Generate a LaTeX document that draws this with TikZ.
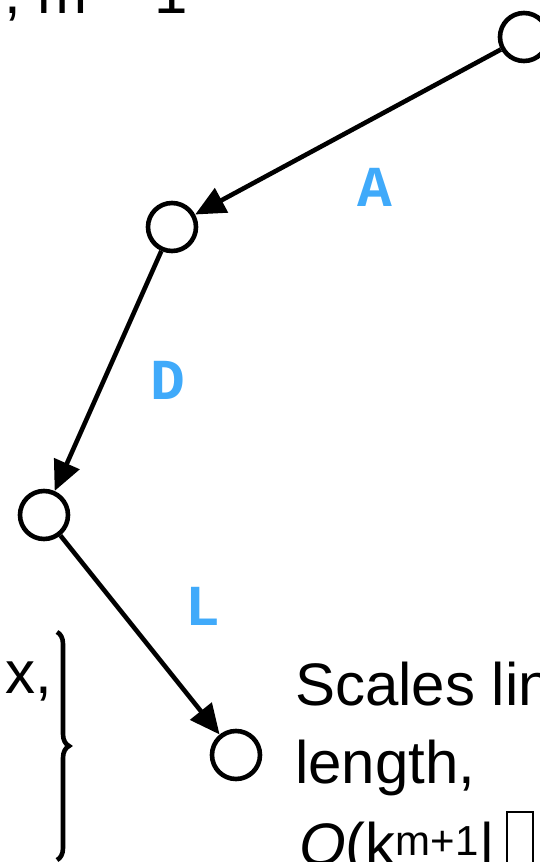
\documentclass[tikz,border=0pt]{standalone}
\usepackage{fontspec}
\setmainfont{Liberation Sans}
\newfontfamily\codefont{Liberation Mono}
\usetikzlibrary{arrows.meta,decorations.pathreplacing}

\definecolor{edgeblue}{RGB}{64,170,250}

\tikzset{
  vtx/.style={circle, draw, line width=4.6pt, minimum size=48pt, inner sep=0pt},
  hop/.style={line width=4.6pt, -{Triangle[length=30pt,width=27pt]}},
  elabel/.style={text=edgeblue, font=\codefont\bfseries\fontsize{58}{58}\selectfont, inner sep=0pt},
  bigtext/.style={font=\fontsize{60}{72}\selectfont, inner sep=0pt}
}

\begin{document}
\begin{tikzpicture}[x=1pt,y=-1pt]
    \useasboundingbox (0,0) rectangle (540,862);
    \clip (0,0) rectangle (540,862);

    % text running off the top and the left
    \node[bigtext, anchor=base west] (toptext) at (4,13) {, m -- 1};
    \node[bigtext, anchor=base east] (xtext) at (52,693) {x,};
    \draw[line width=4.6pt, decorate, decoration={brace, amplitude=12pt}] (57,632) -- (57,860); % brace

    % the states along the path
    \node[vtx] (s1) at (524,37) {};
    \node[vtx] (s2) at (172,227) {};
    \node[vtx] (s3) at (44,515) {};
    \node[vtx] (s4) at (236,755) {};

    % edges and their labels
    \draw[hop] (s1) -- (s2);
    \draw[hop] (s2) -- (s3);
    \draw[hop] (s3) -- (s4);
    \node[elabel] (la) at (375,187) {A};
    \node[elabel] (ld) at (168,380) {D};
    \node[elabel] (ll) at (203,606) {L};

    % note on the right
    \node[bigtext, anchor=base west] (note1) at (295,705) {Scales linearly};
    \node[bigtext, anchor=base west] (note2) at (295,783) {length,};
    \node[bigtext, anchor=base west] (note3) at (299,865) {\textit{O}(k\textsuperscript{m+1}|};
    \draw[line width=1.5pt] (507,812) rectangle (533,890); % missing glyph box
\end{tikzpicture}
\end{document}
